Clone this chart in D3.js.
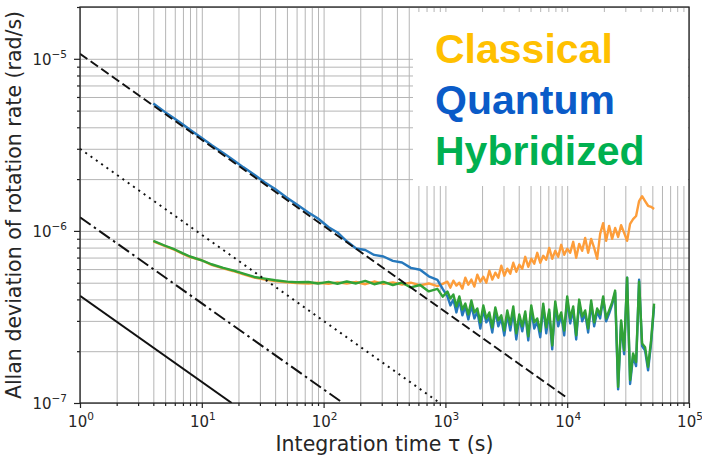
<!DOCTYPE html>
<html>
<head>
<meta charset="utf-8">
<script src="https://cdn.jsdelivr.net/npm/d3@7"></script>
<style>
  body { margin: 0; background: #fff; }
  text { font-family: "DejaVu Sans", sans-serif; fill: #262626; }
</style>
</head>
<body>
<script>
'use strict';

// integration times (s), shared by the three runs
const tau = [4, 5, 6, 7, 8, 10, 12, 15, 18, 22, 27, 33, 40, 50, 60, 75, 90, 110, 130, 155,
  185, 220, 260, 310, 370, 440, 520, 620, 730, 860, 950,
  1039, 1099, 1163, 1231, 1302, 1378, 1458, 1543, 1634, 1729, 1829, 1936, 2049, 2168, 2295,
  2428, 2570, 2719, 2877, 3045, 3222, 3410, 3609, 3819, 4042, 4277, 4526, 4790, 5069, 5364,
  5677, 6007, 6357, 6728, 7120, 7534, 7973, 8438, 8929, 9450, 10000, 10583, 11199, 11852,
  12542, 13273, 14046, 14864, 15730, 16647, 17617, 18644, 19730, 20880, 22096, 23384, 24746,
  26188, 27713, 29328, 31037, 32845, 34759, 36784, 38927, 41196, 43596, 46136, 48825, 51670];

// Allan deviation, in units of 1e-7 rad/s
const classical = [8.7, 8.15, 7.75, 7.35, 7.05, 6.75, 6.35, 6.05, 5.85, 5.6, 5.35, 5.22, 5.12, 5.02,
  4.97, 4.95, 5.0, 4.92, 5.02, 4.95, 5.05, 4.9, 5.08, 4.92, 5.02, 4.88, 5.0, 4.82, 4.95, 4.78, 4.92,
  5.07, 4.68, 5.14, 4.81, 5.00, 4.62, 5.35, 4.87, 5.21, 4.75,
  5.57, 5.07, 5.42, 5.00, 5.87, 5.21, 5.72, 5.35, 6.28, 5.49,
  6.03, 5.64, 6.53, 5.79, 6.36, 6.03, 7.07, 6.19, 6.89, 6.45,
  7.46, 6.53, 7.17, 6.80, 7.97, 6.89, 7.66, 7.07, 8.30, 7.27,
  7.87, 7.46, 8.64, 6.98, 8.41, 7.66, 9.11, 7.46, 8.99, 7.97,
  6.89, 9.61, 11.1, 8.75, 10.7, 8.99, 10.4, 9.22, 10.8, 9.74,
  8.75, 11.0, 11.7, 12.2, 14.9, 15.9, 14.9, 14.0, 13.8, 13.4];

const quantum = [55, 49, 44.8, 41.5, 38.7, 34.7, 31.6, 28.4, 25.9, 23.4, 21.2, 19.1, 17.5, 15.6,
  14.3, 12.8, 11.8, 10.5, 9.8, 8.7, 7.9, 7.75, 7.25, 7.1, 6.7, 6.55, 6.1, 5.95, 5.45, 5.2, 4.6,
  4.16, 3.69, 3.99, 3.36, 3.94, 3.23, 3.64, 3.06, 3.69, 3.10,
  3.40, 2.71, 3.49, 2.94, 3.14, 2.57, 3.45, 2.79, 3.10, 2.47,
  3.27, 2.64, 3.40, 2.34, 3.14, 2.61, 3.27, 2.31, 3.49, 2.71,
  2.98, 2.41, 3.64, 2.54, 3.36, 2.05, 3.73, 2.79, 3.23, 2.47,
  3.99, 2.90, 3.49, 2.34, 3.84, 2.98, 3.31, 2.57, 3.78, 2.79,
  3.40, 3.10, 4.05, 2.98, 3.31, 3.73, 4.38, 1.20, 2.94, 1.92,
  5.35, 1.29, 1.87, 1.64, 5.20, 2.14, 2.02, 1.55, 2.22, 3.64];

const hybridized = [8.75, 8.2, 7.8, 7.4, 7.1, 6.75, 6.4, 6.1, 5.9, 5.65, 5.4, 5.28, 5.17, 5.07,
  5.03, 5.05, 4.95, 5.06, 4.93, 5.08, 4.95, 5.12, 4.9, 5.05, 4.85, 5.0, 4.7, 4.85, 4.45, 4.6, 4.15,
  4.44, 4.05, 4.27, 3.64, 4.16, 3.49, 3.78, 3.27, 3.94, 3.36,
  3.54, 2.94, 3.69, 3.10, 3.36, 2.75, 3.59, 3.02, 3.23, 2.64,
  3.45, 2.86, 3.64, 2.54, 3.27, 2.79, 3.40, 2.44, 3.69, 2.94,
  3.10, 2.61, 3.78, 2.75, 3.49, 2.16, 3.89, 3.02, 3.36, 2.64,
  4.16, 3.10, 3.64, 2.47, 3.99, 3.18, 3.45, 2.71, 3.94, 2.94,
  3.54, 3.27, 4.16, 3.10, 3.45, 3.84, 4.50, 1.24, 3.02, 2.02,
  5.35, 1.36, 1.94, 1.73, 5.07, 2.22, 2.11, 1.62, 2.31, 3.78];

// tau^-1/2 guide lines, [tau, sigma] end points
const refDashed = [[1, 1.07e-5], [1e4, 1.07e-7]];
const refDotted = [[1, 3.0e-6], [900, 1.0e-7]];
const refDashDot = [[1, 1.2e-6], [144, 1.0e-7]];
const refSolid = [[1, 4.2e-7], [17.6, 1.0e-7]];

const xTickExp = [0, 1, 2, 3, 4, 5];
const yTickExp = [-7, -6, -5];
const legendNames = ["Classical", "Quantum", "Hybridized"];

const width = 702, height = 460;
const pLeft = 80, pRight = 689, pTop = 7, pBottom = 403;

const svg = d3.select("body").append("svg")
  .attr("width", width)
  .attr("height", height);

svg.append("rect").attr("width", width).attr("height", height).attr("fill", "#fff");

const x = d3.scaleLog().domain([1, 1e5]).range([pLeft, pRight]);
const y = d3.scaleLog().domain([1e-7, 2e-5]).range([pBottom, pTop]);

const xMajor = xTickExp.map(e => Math.pow(10, e));
const xMinor = [];
for (let e = 0; e < 5; e++) for (let k = 2; k <= 9; k++) xMinor.push(k * Math.pow(10, e));
const yMajor = yTickExp.map(e => Math.pow(10, e));
const yMinor = [];
for (let e = -7; e < -5; e++) for (let k = 2; k <= 9; k++) yMinor.push(k * Math.pow(10, e));
yMinor.push(2e-5);

// grid
const grid = svg.append("g").attr("class", "grid");
grid.append("g")
  .attr("transform", `translate(0,${pBottom})`)
  .call(d3.axisBottom(x).tickValues(xMajor.concat(xMinor)).tickSize(-(pBottom - pTop)).tickFormat(""));
grid.append("g")
  .attr("transform", `translate(${pLeft},0)`)
  .call(d3.axisLeft(y).tickValues(yMajor.concat(yMinor)).tickSize(-(pRight - pLeft)).tickFormat(""));
grid.selectAll(".domain").remove();
grid.selectAll("line").attr("stroke", "#b5b5b5").attr("stroke-width", 1);

// legend box sits over the grid
svg.append("rect")
  .attr("x", 413).attr("y", 12)
  .attr("width", 275).attr("height", 174)
  .attr("fill", "#fff");

svg.append("clipPath").attr("id", "plot")
  .append("rect").attr("x", pLeft).attr("y", pTop)
  .attr("width", pRight - pLeft).attr("height", pBottom - pTop);

const line = d3.line()
  .x((d, i) => x(tau[i]))
  .y(d => y(d * 1e-7));

const plot = svg.append("g").attr("clip-path", "url(#plot)");

plot.append("path").datum(classical)
  .attr("d", line).attr("fill", "none")
  .attr("stroke", "#fd9d3a").attr("stroke-width", 2.4).attr("stroke-linejoin", "round");
plot.append("path").datum(quantum)
  .attr("d", line).attr("fill", "none")
  .attr("stroke", "#2678bc").attr("stroke-width", 2.4).attr("stroke-linejoin", "round");
plot.append("path").datum(hybridized)
  .attr("d", line).attr("fill", "none")
  .attr("stroke", "#31a237").attr("stroke-width", 2.4).attr("stroke-linejoin", "round");

const refLine = d3.line().x(d => x(d[0])).y(d => y(d[1]));
const refs = [
  { pts: refDashed, dash: "9,4" },
  { pts: refDotted, dash: "2,4.5" },
  { pts: refDashDot, dash: "13,4,2.5,4" },
  { pts: refSolid, dash: null }
];
refs.forEach(r => {
  plot.append("path").datum(r.pts)
    .attr("d", refLine).attr("fill", "none")
    .attr("stroke", "#111").attr("stroke-width", 2)
    .attr("stroke-dasharray", r.dash);
});

// frame
svg.append("rect")
  .attr("x", pLeft).attr("y", pTop)
  .attr("width", pRight - pLeft).attr("height", pBottom - pTop)
  .attr("fill", "none").attr("stroke", "#222").attr("stroke-width", 1.3);

// ticks
const ax = svg.append("g").attr("class", "ticks");
ax.append("g").attr("transform", `translate(0,${pBottom})`)
  .call(d3.axisBottom(x).tickValues(xMajor).tickSize(5).tickFormat(""));
ax.append("g").attr("transform", `translate(0,${pBottom})`)
  .call(d3.axisBottom(x).tickValues(xMinor).tickSize(3).tickFormat(""));
ax.append("g").attr("transform", `translate(${pLeft},0)`)
  .call(d3.axisLeft(y).tickValues(yMajor).tickSize(6).tickFormat(""));
ax.append("g").attr("transform", `translate(${pLeft},0)`)
  .call(d3.axisLeft(y).tickValues(yMinor).tickSize(3).tickFormat(""));
ax.selectAll(".domain").remove();
ax.selectAll("line").attr("stroke", "#222").attr("stroke-width", 1.2);

// tick labels
xTickExp.forEach(e => {
  const t = svg.append("text")
    .attr("x", x(Math.pow(10, e)) + 1).attr("y", pBottom + 24)
    .attr("text-anchor", "middle").style("font-size", "15px");
  t.append("tspan").text("10");
  t.append("tspan").attr("dy", -7).style("font-size", "10.5px").text(String(e));
});
yTickExp.forEach(e => {
  const t = svg.append("text")
    .attr("x", 67).attr("y", y(Math.pow(10, e)) + 6)
    .attr("text-anchor", "end").style("font-size", "15px");
  t.append("tspan").text("10");
  t.append("tspan").attr("dy", -7).style("font-size", "10.5px").text("\u2212" + Math.abs(e));
});

// axis titles
svg.append("text")
  .attr("x", (pLeft + pRight) / 2).attr("y", 451)
  .attr("text-anchor", "middle").style("font-size", "20.5px")
  .text("Integration time \u03c4 (s)");
svg.append("text")
  .attr("transform", `translate(21,${(pTop + pBottom) / 2}) rotate(-90)`)
  .attr("text-anchor", "middle").style("font-size", "20.5px")
  .text("Allan deviation of rotation rate (rad/s)");

// legend
const legendColor = d3.scaleOrdinal().domain(legendNames).range(["#ffc000", "#0a5bc8", "#00b050"]);
svg.selectAll(".legend").data(legendNames).enter().append("text")
  .attr("class", "legend")
  .attr("x", 435).attr("y", (d, i) => 63 + i * 51)
  .style("font-family", "'Liberation Sans', Arial, sans-serif")
  .style("font-weight", "bold").style("font-size", "41px")
  .style("fill", d => legendColor(d))
  .text(d => d);
</script>
</body>
</html>
